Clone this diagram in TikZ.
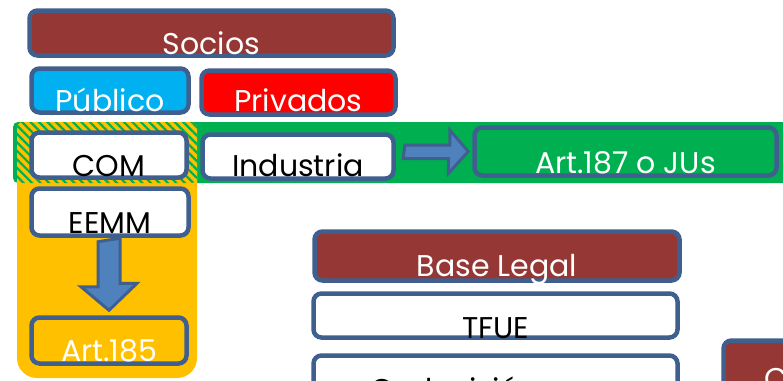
\documentclass[tikz,border=0pt]{standalone}
\usepackage{fontspec}
\setmainfont{Poppins}
\usetikzlibrary{calc,patterns.meta}
\definecolor{brownc}{HTML}{953735}
\definecolor{bordc}{HTML}{3F608E}
\definecolor{arrfill}{HTML}{4F81BD}
\definecolor{greenc}{HTML}{00B050}
\definecolor{goldc}{HTML}{FFC000}
\definecolor{cyanc}{HTML}{00B0F0}
\definecolor{redc}{HTML}{FF0000}

\begin{document}
\begin{tikzpicture}[x=1pt, y=-1pt,
	box/.style={draw=bordc, line width=4.5pt, rounded corners=8pt, inner sep=0pt},
	lbl/.style={anchor=base, inner sep=0pt, font=\fontsize{30}{30}\selectfont},
	blockarr/.style={draw=bordc, fill=arrfill, line width=3pt, line join=miter}]
	\clip (0,0) rectangle (783,380);
	% green band (Industria) and gold column (EEMM), striped where they meet
	\fill[greenc, rounded corners=5pt] (13,122) rectangle (800,183);
	\fill[goldc, rounded corners=20pt] (17,150) rectangle (197,378);
	\fill[goldc, rounded corners=6pt] (17,122) rectangle (197,190);
	\fill[pattern={Lines[angle=-45,distance=6pt,line width=2.2pt]}, pattern color=greenc, rounded corners=6pt] (17,122) rectangle (197,183);
	% boxes
	\foreach \nm/\cx/\cy/\w/\h/\col in {socios/211.5/33/364/45/brownc, publico/110/90.5/157/44/cyanc, privados/298.5/92.5/194/44/redc,
		com/109/155/155/45/white, industria/298/156.5/191/44/white, art187/625.5/151.5/302/48/greenc,
		eemm/110/212/157/47/white, art185/109/340.5/155/46/goldc,
		baselegal/497/256/365/49/brownc, tfue/495.5/315.5/364/44/white, coop/495.5/383/364/55/white, otro/811/369/175/57/brownc} {
		\node[box, fill=\col, minimum width=\w, minimum height=\h] (\nm) at (\cx,\cy) {};
	}
	% texts, set low in their boxes
	\foreach \nm/\dy/\tc/\txt in {socios/-3/white/Socios, publico/-3/white/Público, privados/-5/white/Privados,
		com/-3/black/COM, industria/-4/black/Industria, art187/-4/white/Art.187 o JUs,
		eemm/-4/black/EEMM, art185/-4/white/Art.185, baselegal/-6/white/Base Legal, tfue/-1/black/TFUE} {
		\node[lbl, text=\tc] at ($(\nm.south)+(0,\dy)$) {\txt};
	}
	\node[lbl, anchor=base west] at ($(coop.south west)+(59,-12)$) {Codecisión};
	\node[lbl, anchor=base west, text=white] at ($(otro.south west)+(43,-10)$) {C};
	% block arrows
	\draw[blockarr] ($(industria.east)+(9,-11.5)$) -- ++(45,0) -- ++(0,-15) -- ($(art187.west)+(-4,0)$) -- ++(-20,22) -- ++(0,-15) -- ++(-45,0) -- cycle;
	\draw[blockarr] ($(eemm.south)+(-12,4)$) -- ++(0,45) -- ++(-17,0) -- ($(art185.north)+(0,-5)$) -- ++(28,-27) -- ++(-17,0) -- ++(0,-45) -- cycle;
\end{tikzpicture}
\end{document}
